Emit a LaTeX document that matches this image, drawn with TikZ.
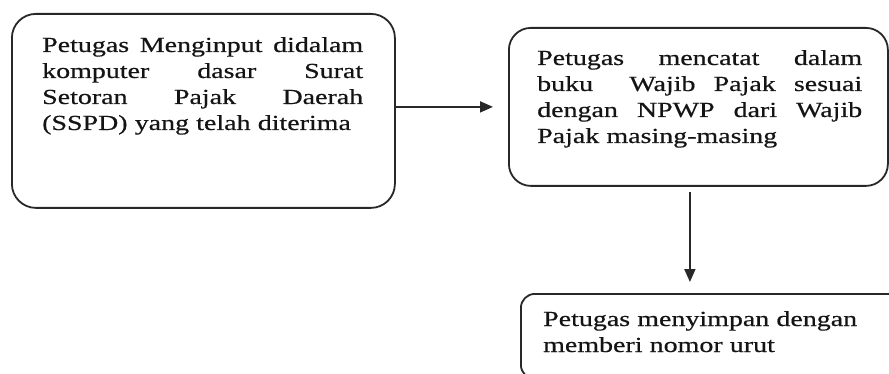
\documentclass[tikz,border=0pt]{standalone}
\usepackage{fontspec}
\setmainfont{Liberation Serif}[FakeStretch=1.3,FakeBold=0.5]
\usetikzlibrary{arrows.meta}
\definecolor{linecol}{RGB}{40,40,40}
\definecolor{textcol}{RGB}{20,20,20}
\begin{document}
\begin{tikzpicture}[x=1pt,y=-1pt,
  stepbox/.style={draw=linecol, line width=1.8pt, rectangle, anchor=north west, inner sep=0pt},
  boxtext/.style={anchor=base west, inner sep=0pt, align=left, text=textcol,
    font={\fontsize{21.5}{26}\selectfont}},
  arr/.style={draw=linecol, line width=1.8pt, -{Triangle[length=13pt,width=11pt]}}]
\clip (0,0) rectangle (889,374);
\fill[white] (0,0) rectangle (889,374);
% boxes
\node[stepbox, rounded corners=24pt, minimum width=383pt, minimum height=194pt] (b1) at (11,13) {};
\node[stepbox, rounded corners=22pt, minimum width=379pt, minimum height=158pt] (b2) at (508,27) {};
\node[stepbox, rounded corners=14pt, minimum width=420pt, minimum height=85pt] (b3) at (520,293) {};
% texts
\node[boxtext, text width=321pt] (t1) at (42,52) {\makebox[321pt]{Petugas\hfill Menginput\hfill didalam}\\
\makebox[321pt]{komputer\hfill dasar\hfill Surat}\\
\makebox[321pt]{Setoran\hfill Pajak\hfill Daerah}\\
(SSPD) yang telah diterima};
\node[boxtext, text width=325pt] (t2) at (537,65) {\makebox[325pt]{Petugas\hfill mencatat\hfill dalam}\\
\makebox[325pt]{buku\hfill\hfill Wajib\hfill Pajak\hfill sesuai}\\
\makebox[325pt]{dengan\hfill NPWP\hfill dari\hfill Wajib}\\
Pajak masing-masing};
\node[boxtext, text width=330pt] (t3) at (543,326) {Petugas menyimpan dengan\\
memberi nomor urut};
% arrows
\draw[arr, shorten >=15pt] (b1.east |- b2.west) -- (b2.west);
\draw[arr, shorten <=5pt, shorten >=11pt] ([xshift=-8.5pt]b2.south) -- ([xshift=-8.5pt]b2.south |- b3.north);
\end{tikzpicture}
\end{document}
